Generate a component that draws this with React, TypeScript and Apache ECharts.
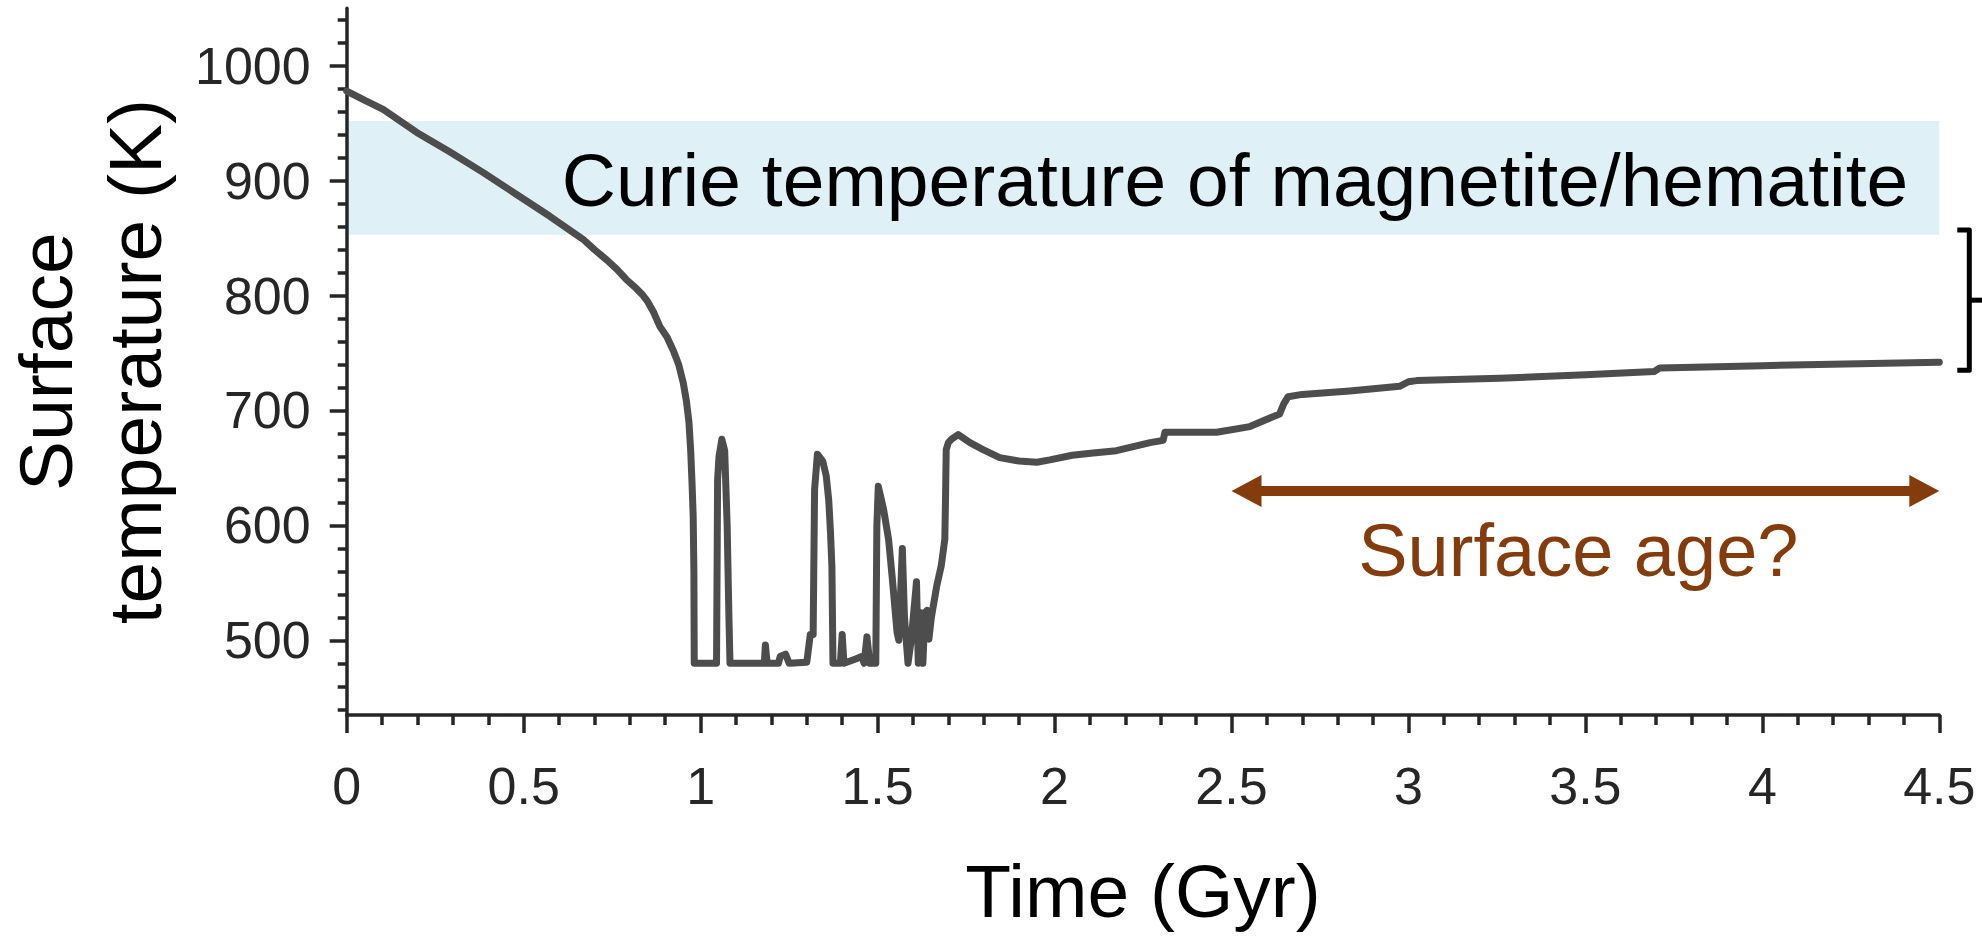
import React, { useEffect, useRef } from "react";
import * as echarts from "echarts";

// ---- Data ----
const timeGyr = [
  0, 0.05, 0.103, 0.198, 0.292, 0.386, 0.48, 0.574, 0.668, 0.7, 0.735, 0.763, 0.79, 0.819, 0.835, 0.85,
  0.868, 0.885, 0.905, 0.923, 0.938, 0.951, 0.96, 0.967, 0.972, 0.976, 0.979, 0.981, 0.982, 1.045, 1.048, 1.052,
  1.06, 1.068, 1.075, 1.08, 1.083, 1.18, 1.183, 1.188, 1.22, 1.225, 1.24, 1.25, 1.3, 1.31, 1.318, 1.322,
  1.33, 1.345, 1.355, 1.362, 1.367, 1.371, 1.374, 1.395, 1.4, 1.405, 1.44, 1.455, 1.462, 1.47, 1.478, 1.495,
  1.498, 1.502, 1.517, 1.531, 1.541, 1.555, 1.56, 1.57, 1.576, 1.586, 1.595, 1.61, 1.615, 1.622, 1.628, 1.634,
  1.64, 1.645, 1.652, 1.667, 1.68, 1.69, 1.692, 1.694, 1.7, 1.709, 1.728, 1.761, 1.798, 1.845, 1.9, 1.95,
  1.987, 2.05, 2.109, 2.175, 2.27, 2.307, 2.312, 2.363, 2.458, 2.552, 2.636, 2.648, 2.66, 2.7, 2.834, 2.975,
  3.0, 3.023, 3.258, 3.5, 3.695, 3.71, 4.0, 4.5,
];
const tempK = [
  978, 970, 962, 942, 925, 907, 888, 869, 849, 840, 831, 823, 814, 806, 801, 795,
  785, 773, 764, 752, 740, 724, 708, 690, 665, 635, 608, 560, 480, 480, 640, 660,
  675, 665, 600, 520, 480, 480, 496, 480, 480, 486, 488, 480, 481, 505, 505, 631,
  662, 656, 643, 622, 594, 564, 480, 480, 505, 480, 484, 486, 480, 503, 480, 480,
  600, 634, 614, 588, 556, 507, 500, 580, 520, 480, 500, 551, 480, 524, 480, 524,
  526, 501, 520, 547, 565, 588, 623, 666, 672, 675, 679, 672, 666, 659, 656, 655,
  657, 661, 663, 665, 672, 674, 681, 681, 681, 686, 697, 706, 712, 714, 717, 721,
  725, 726, 728, 731, 734, 737, 739, 742,
];

const xRange = [0, 4.5];
const xTickStep = 0.5;
const yRange = [435, 1050];
const yMajorTicks = [500, 600, 700, 800, 900, 1000];
const yMinorTicks = [
  440, 460, 480, 520, 540, 560, 580, 620, 640, 660, 680, 720, 740, 760, 780,
  820, 840, 860, 880, 920, 940, 960, 980, 1020, 1040,
];

const curieBandK = [853, 952];
const curieLabel = "Curie temperature of magnetite/hematite";
const surfaceAgeGyr = [2.5, 4.5];
const surfaceAgeArrowK = 630;
const surfaceAgeLabel = "Surface age?";
const bracketK = [735, 857];

const xTitle = "Time (Gyr)";
const yTitle = "Surface\ntemperature (K)";

const FONT = "'Liberation Sans', Arial, Helvetica, sans-serif";
const AXIS_COLOR = "#262626";
const LINE_COLOR = "#4d4d4d";
const BROWN = "#843c0c";

export default function App() {
  const ref = useRef<HTMLDivElement>(null);

  useEffect(() => {
    if (!ref.current) return;
    const chart = echarts.init(ref.current, undefined, { renderer: "svg" });

    const series = timeGyr.map((t, i) => [t, tempK[i]]);

    chart.setOption({
      animation: false,
      backgroundColor: "#ffffff",
      grid: {
        left: 346.7,
        right: 42.7,
        top: 8.3,
        bottom: 227,
        containLabel: false,
        outerBoundsMode: "none",
      },
      xAxis: {
        type: "value",
        min: xRange[0],
        max: xRange[1],
        interval: xTickStep,
        name: xTitle,
        nameLocation: "middle",
        nameGap: 138,
        nameTextStyle: { fontFamily: FONT, fontSize: 75, color: "#000" },
        axisLine: { show: true, lineStyle: { color: AXIS_COLOR, width: 3.5 } },
        axisTick: { show: true, length: 18, lineStyle: { color: AXIS_COLOR, width: 3.5 } },
        minorTick: { show: true, splitNumber: 5, length: 10, lineStyle: { color: AXIS_COLOR, width: 3.5 } },
        axisLabel: {
          fontFamily: FONT,
          fontSize: 52,
          color: AXIS_COLOR,
          margin: 45,
          showMinLabel: true,
          showMaxLabel: true,
          formatter: (v: number) => String(v),
        },
        splitLine: { show: false },
      },
      yAxis: [
        {
          type: "value",
          min: yRange[0],
          max: yRange[1],
          name: yTitle,
          nameLocation: "middle",
          nameRotate: 90,
          nameGap: 167,
          nameTextStyle: { fontFamily: FONT, fontSize: 75, color: "#000", lineHeight: 89 },
          axisLine: { show: true, lineStyle: { color: AXIS_COLOR, width: 3.5 } },
          axisTick: {
            show: true,
            length: 17,
            customValues: yMajorTicks,
            lineStyle: { color: AXIS_COLOR, width: 3.5 },
          },
          axisLabel: {
            fontFamily: FONT,
            fontSize: 52,
            color: AXIS_COLOR,
            margin: 36,
            customValues: yMajorTicks,
            formatter: (v: number) => String(v),
          },
          splitLine: { show: false },
        },
        {
          type: "value",
          min: yRange[0],
          max: yRange[1],
          position: "left",
          offset: 0,
          axisLine: { show: false },
          axisTick: {
            show: true,
            length: 9,
            customValues: yMinorTicks,
            lineStyle: { color: AXIS_COLOR, width: 3.5 },
          },
          axisLabel: { show: false },
          splitLine: { show: false },
        },
      ],
      series: [
        {
          type: "line",
          data: series,
          xAxisIndex: 0,
          yAxisIndex: 0,
          showSymbol: false,
          symbol: "none",
          z: 5,
          lineStyle: { color: LINE_COLOR, width: 7, join: "round", cap: "round" },
        },
      ],
    });

    const px = (x: number, y: number) =>
      chart.convertToPixel({ xAxisIndex: 0, yAxisIndex: 0 }, [x, y]) as number[];

    const bandTL = px(xRange[0], curieBandK[1]);
    const bandBR = px(xRange[1], curieBandK[0]);
    const arrowL = px(surfaceAgeGyr[0], surfaceAgeArrowK);
    const arrowR = px(surfaceAgeGyr[1], surfaceAgeArrowK);
    const brTop = px(xRange[1], bracketK[1]);
    const brBot = px(xRange[1], bracketK[0]);

    const headLen = 30;
    const headHalf = 16;
    const bx0 = brTop[0] + 18;
    const bx1 = brTop[0] + 30;
    const bMid = (brTop[1] + brBot[1]) / 2;

    chart.setOption({
      graphic: [
        {
          type: "rect",
          z: -1,
          silent: true,
          shape: {
            x: bandTL[0] + 2,
            y: bandTL[1],
            width: bandBR[0] - bandTL[0] - 2,
            height: bandBR[1] - bandTL[1],
          },
          style: { fill: "#dff1f7" },
        },
        {
          type: "text",
          z: 10,
          style: {
            text: curieLabel,
            x: bandBR[0] - 31,
            y: (bandTL[1] + bandBR[1]) / 2 + 2,
            textAlign: "right",
            textVerticalAlign: "middle",
            fontFamily: FONT,
            fontSize: 75,
            fill: "#000",
          },
        },
        {
          type: "line",
          z: 10,
          shape: { x1: arrowL[0] + headLen - 2, y1: arrowL[1], x2: arrowR[0] - headLen + 2, y2: arrowR[1] },
          style: { stroke: BROWN, lineWidth: 10 },
        },
        {
          type: "polygon",
          z: 10,
          shape: {
            points: [
              [arrowL[0], arrowL[1]],
              [arrowL[0] + headLen, arrowL[1] - headHalf],
              [arrowL[0] + headLen, arrowL[1] + headHalf],
            ],
          },
          style: { fill: BROWN },
        },
        {
          type: "polygon",
          z: 10,
          shape: {
            points: [
              [arrowR[0], arrowR[1]],
              [arrowR[0] - headLen, arrowR[1] - headHalf],
              [arrowR[0] - headLen, arrowR[1] + headHalf],
            ],
          },
          style: { fill: BROWN },
        },
        {
          type: "text",
          z: 10,
          style: {
            text: surfaceAgeLabel,
            x: (arrowL[0] + arrowR[0]) / 2 - 7,
            y: arrowL[1] + 60,
            textAlign: "center",
            textVerticalAlign: "middle",
            fontFamily: FONT,
            fontSize: 74,
            fill: BROWN,
          },
        },
        {
          type: "polyline",
          z: 10,
          shape: {
            points: [
              [bx0, brTop[1]],
              [bx1, brTop[1]],
              [bx1, brBot[1]],
              [bx0, brBot[1]],
            ],
          },
          style: { stroke: "#000", lineWidth: 5, fill: null, lineJoin: "round" },
        },
        {
          type: "line",
          z: 10,
          shape: { x1: bx1, y1: bMid, x2: bx1 + 16, y2: bMid },
          style: { stroke: "#000", lineWidth: 5 },
        },
      ],
    });

    return () => chart.dispose();
  }, []);

  return (
    <div
      ref={ref}
      style={{ position: "fixed", left: 0, top: 0, width: 1982, height: 942, background: "#fff" }}
    />
  );
}
